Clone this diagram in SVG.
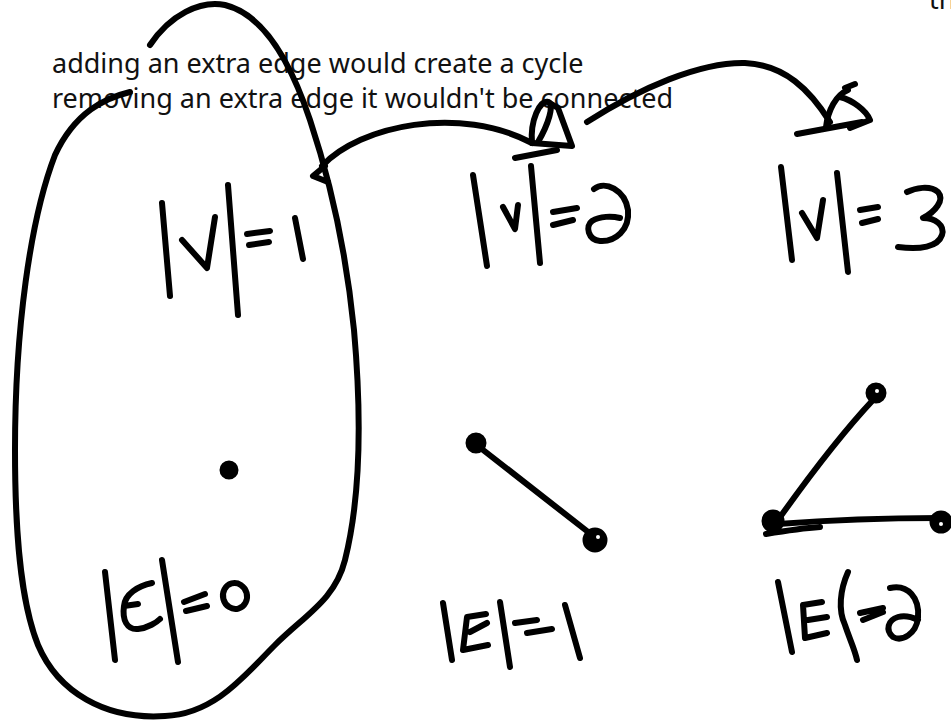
<svg xmlns="http://www.w3.org/2000/svg" width="951" height="726" viewBox="0 0 951 726">
<style>
.ink{fill:none;stroke:#000;stroke-width:6;stroke-linecap:round;stroke-linejoin:round}
.dot{fill:#000;stroke:#000;stroke-width:3}
.txt{font-family:"Noto Sans","Open Sans",sans-serif;font-size:27px;fill:#111}
</style>
<rect width="951" height="726" fill="#fff"/>
<g id="notes">
<text class="txt" x="52" y="73">adding an extra edge would create a cycle</text>
<text class="txt" x="52" y="108">removing an extra edge it wouldn't be connected</text>
<text class="txt" x="929" y="9">th</text>
</g>
<g id="loop">
<path class="ink" d="M150,45 C170,15 200,0 225,5 C262,14 290,60 310,120 C325,165 345,240 354,330 C362,420 360,500 345,560 C335,600 305,615 275,645 C245,675 215,714 165,716 C105,720 58,692 38,645 C20,600 15,530 15,450 C15,330 30,220 55,155 C75,112 105,98 130,92"/>
</g>
<g id="connectors">
<path class="ink" d="M325,166 L313,176 L328,182"/>
<path class="ink" d="M322,166 C360,125 460,105 532,143"/>
<path class="ink" d="M532,143 C530,120 540,100 548,102 C555,104 548,125 538,142"/>
<path class="ink" d="M548,102 L558,108 L572,146 L532,143"/>
<path class="ink" d="M515,158 L557,150"/>
<path class="ink" d="M587,122 C640,88 700,62 745,63 C785,65 810,90 830,122"/>
<path class="ink" d="M797,134 L862,122"/>
<path class="ink" d="M826,127 C828,110 836,95 848,90 M845,88 L855,84"/>
<path class="ink" d="M840,97 C852,100 866,110 870,120 L850,128"/>
</g>
<g id="v1">
<path class="ink" d="M162,203 L170,296"/>
<path class="ink" d="M182,240 L207,268 L215,217"/>
<path class="ink" d="M228,185 L238,315"/>
<path class="ink" d="M247,234 L270,231 M249,245 L269,242"/>
<path class="ink" d="M295,218 L303,259"/>
</g>
<g id="v2">
<path class="ink" d="M473,175 L487,266"/>
<path class="ink" d="M503,207 L515,229 L518,205"/>
<path class="ink" d="M531,166 L540,263"/>
<path class="ink" d="M553,212 L577,208 M553,225 L573,220"/>
<path class="ink" d="M594,189 C605,180 625,190 628,210 C630,230 615,242 600,241 C588,240 585,226 592,221 C600,216 612,216 620,218"/>
</g>
<g id="v3">
<path class="ink" d="M781,167 L792,260"/>
<path class="ink" d="M802,213 L817,238 L823,200"/>
<path class="ink" d="M837,173 L848,272"/>
<path class="ink" d="M860,210 L878,207 M862,223 L878,219"/>
<path class="ink" d="M907,192 C915,188 930,185 938,192 C945,200 935,212 923,218 C935,218 945,225 942,235 C938,247 920,250 898,247"/>
</g>
<g id="e0">
<path class="ink" d="M105,572 L115,660"/>
<path class="ink" d="M152,583 C138,586 125,594 124,606 L138,604 M124,606 C122,620 127,630 138,629 C148,628 157,622 160,619"/>
<path class="ink" d="M162,560 L178,662"/>
<path class="ink" d="M184,602 L205,594 M186,611 L207,606"/>
<ellipse class="ink" cx="235" cy="596" rx="12" ry="13" transform="rotate(-15 235 596)"/>
</g>
<g id="e1">
<path class="ink" d="M443,603 L452,660"/>
<path class="ink" d="M486,614 L467,617 L463,650 L488,645 M470,632 L487,623"/>
<path class="ink" d="M500,602 L510,667"/>
<path class="ink" d="M515,623 L537,620 M527,633 L552,629"/>
<path class="ink" d="M565,605 L580,658"/>
</g>
<g id="e2">
<path class="ink" d="M778,582 L792,652"/>
<path class="ink" d="M822,602 L803,605 L805,638 L827,633 M808,620 L827,617"/>
<path class="ink" d="M848,572 C840,590 838,610 845,625 C850,640 855,650 857,660"/>
<path class="ink" d="M860,613 L883,608 M863,620 L883,612"/>
<path class="ink" d="M890,588 C908,584 920,598 918,618 C916,634 902,642 893,637 C885,630 888,620 898,617 C905,615 912,617 918,620"/>
</g>
<g id="dot1">
<circle class="dot" cx="229" cy="470" r="8"/>
</g>
<g id="graph2">
<path class="ink" d="M478,446 L592,535"/>
<circle class="dot" cx="476" cy="443" r="9"/>
<circle class="dot" cx="595" cy="540" r="11"/>
<circle cx="598" cy="537" r="2" fill="#fff"/>
</g>
<g id="graph3">
<path class="ink" d="M873,400 C845,430 810,475 778,520"/>
<path class="ink" d="M778,524 C830,520 890,518 940,518"/>
<path class="ink" d="M766,534 C790,530 805,528 820,527"/>
<circle class="dot" cx="876" cy="393" r="9"/>
<circle class="dot" cx="773" cy="521" r="10"/>
<circle class="dot" cx="941" cy="522" r="10"/>
<circle cx="877" cy="391" r="2" fill="#fff"/>
<circle cx="941" cy="524" r="2" fill="#fff"/>
</g>
</svg>
